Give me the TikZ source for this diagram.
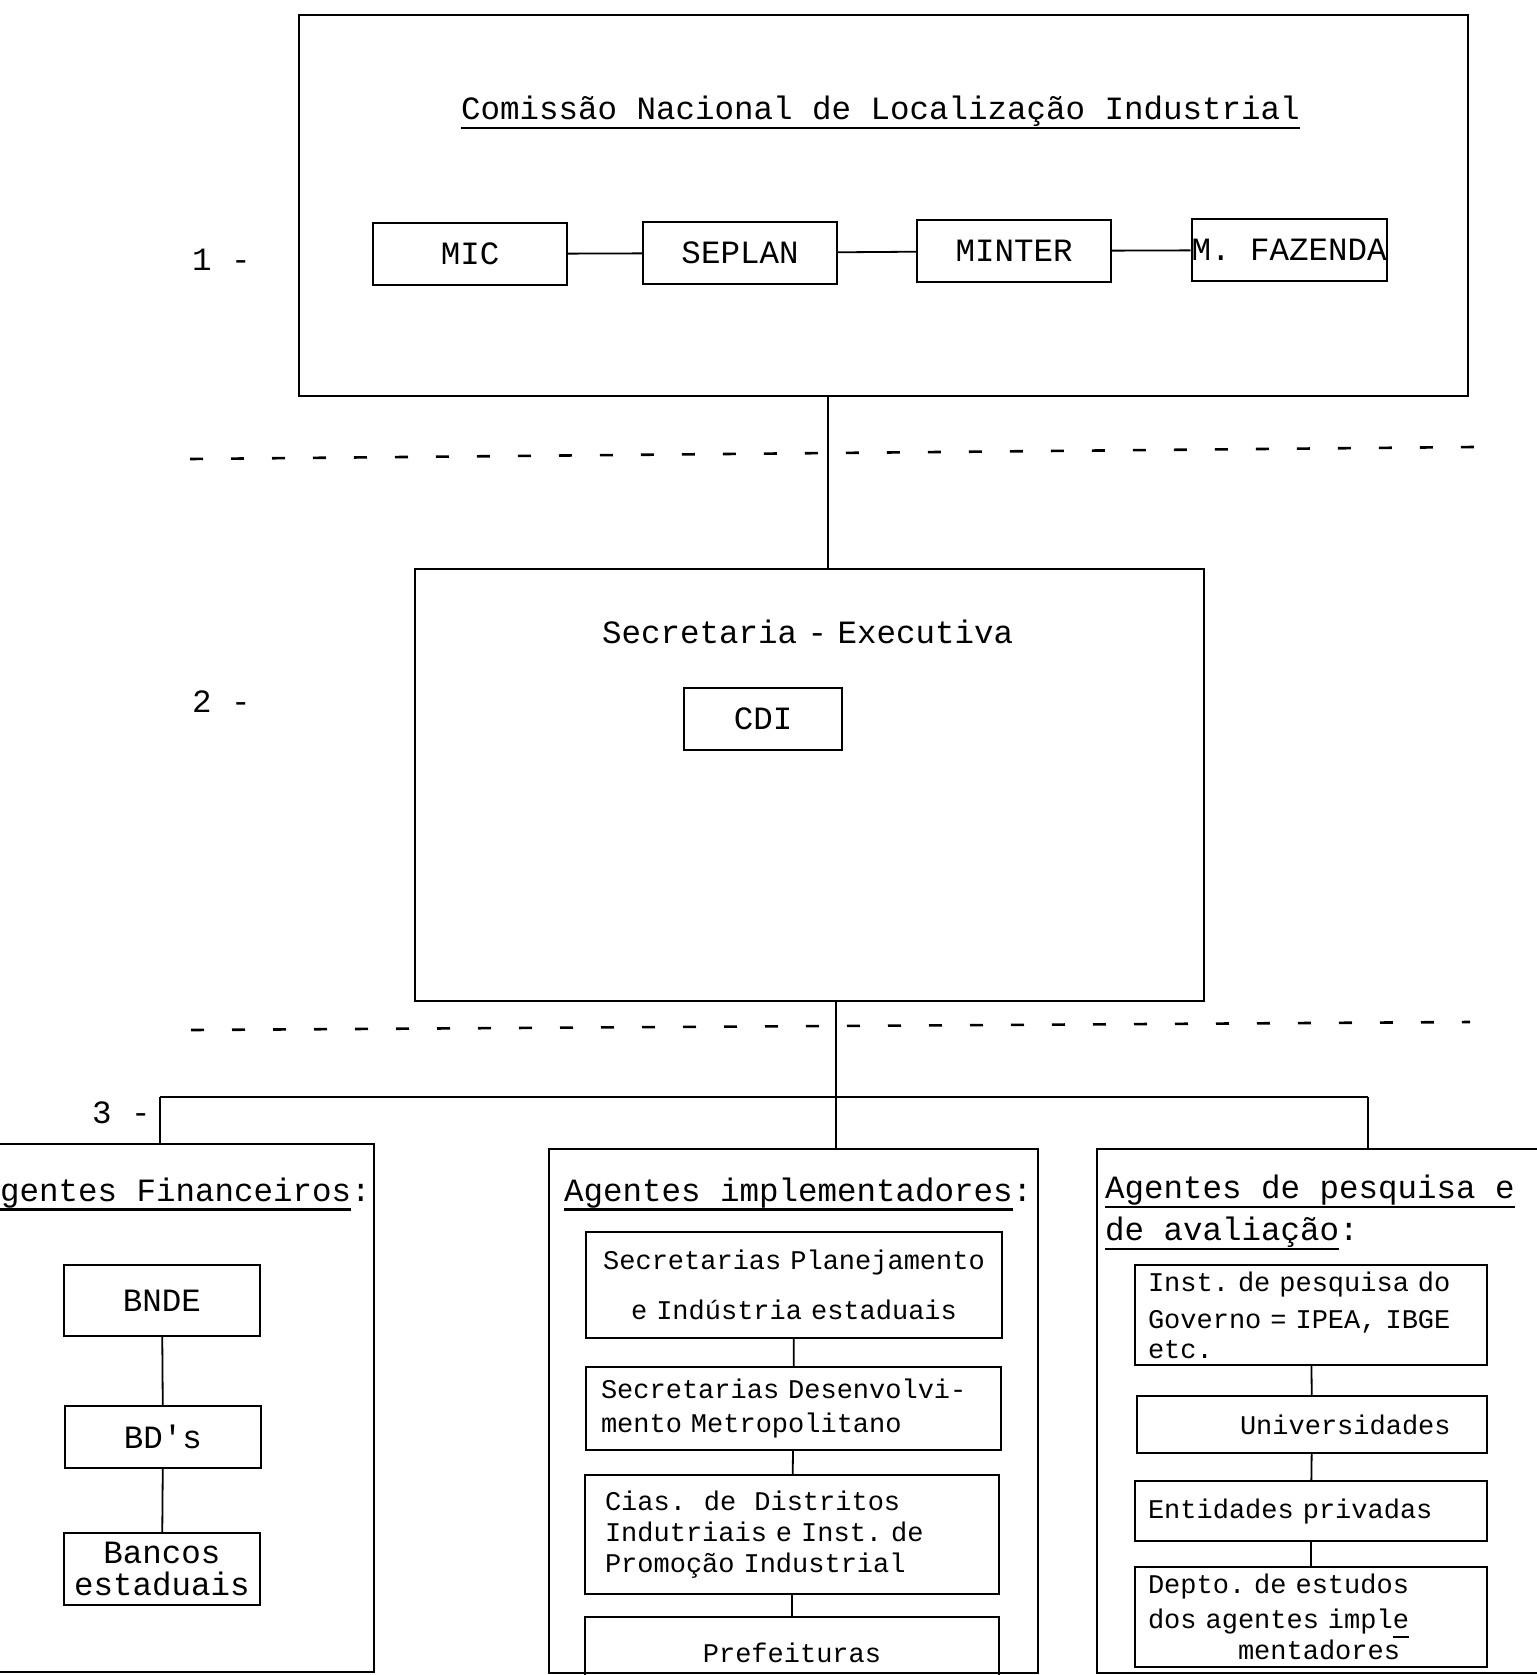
\documentclass[tikz,border=0pt]{standalone}
\usepackage{fontspec}
\newfontfamily\typer{Liberation Mono}[WordSpace={1,0,0}]
\frenchspacing
\def \BigType {\typer\fontsize{32.5}{40}\selectfont}
\def \SmallType {\typer\fontsize{27}{33}\selectfont}
\newcommand\typeline[1]{\setbox0\hbox{#1}\rlap{\vrule height -7pt depth 9.5pt width \wd0}\box0}
\tikzstyle{frame}=[
  draw=black,
  line width=2pt,
  inner sep=0pt
]
\tikzstyle{unitbox}=[frame, font=\BigType, minimum width=194pt, minimum height=62pt]
\tikzstyle{bankbox}=[frame, anchor=north west, font=\BigType, align=center, minimum width=196pt]
\tikzstyle{agentbox}=[frame, anchor=north west, font=\SmallType, inner xsep=14pt, align=left]
\tikzstyle{heading}=[font=\BigType, inner sep=0pt]
\tikzstyle{joinline}=[line width=1.8pt]
\tikzstyle{divider}=[line width=2.6pt, dash pattern=on 13pt off 28pt]

\begin{document}
\begin{tikzpicture}[x=1pt, y=-1pt]
  \path[use as bounding box, fill=white] (0,0) rectangle (1536,1675);

  % level 1
  \node[frame, anchor=north west, minimum width=1169pt, minimum height=381pt] (cnl) at (298,14) {};
  \node[heading, anchor=base west] (cnltitle) at (461,120) {\typeline{Comissão Nacional de Localização Industrial}};
  \foreach \name/\txt/\cx/\cy in {mic/MIC/470/254, seplan/SEPLAN/740/253, minter/MINTER/1014/251, faz/M. FAZENDA/1289/250}{
    \node[unitbox] (\name) at (\cx,\cy) {\txt};
  }
  \foreach \a/\b in {mic/seplan, seplan/minter, minter/faz}{
    \draw[joinline] (\a) -- (\b);
  }
  \node[heading, anchor=base west] (one) at (192,270) {1 -};

  \draw[divider] (190,459) -- (1474,447);

  % level 2
  \node[frame, anchor=north west, minimum width=789pt, minimum height=432pt] (sec) at (414,568) {};
  \node[heading, anchor=base west] (sectitle) at (602,643) {Secretaria\kern-9pt\ -\ \kern-9pt Executiva};
  \node[unitbox, minimum width=158pt] (cdi) at (763,719) {CDI};
  \node[heading, anchor=base west] (two) at (192,712) {2 -};

  \coordinate (spine1) at (828,0);
  \draw[joinline] (cnl.south -| spine1) -- (sec.north -| spine1);

  \draw[divider] (191,1030) -- (1470,1022);

  % level 3
  \node[frame, anchor=north west, minimum width=403pt, minimum height=528pt] (fin) at (-30,1143) {};
  \node[frame, anchor=north west, minimum width=489pt, minimum height=524pt] (impl) at (548,1148) {};
  \node[frame, anchor=north west, minimum width=480pt, minimum height=524pt] (eval) at (1096,1148) {};
  \node[heading, anchor=base west] (three) at (92,1123) {3 -};

  \coordinate (spine2) at (836,0);
  \coordinate (barl) at (160,1097);
  \coordinate (barr) at (1368,1097);
  \draw[joinline] (sec.south -| spine2) -- (impl.north -| spine2);
  \draw[joinline] (barl) -- (barr);
  \draw[joinline] (barl) -- (fin.north -| barl);
  \draw[joinline] (barr) -- (eval.north -| barr);

  \node[heading, anchor=base east] (fintitle) at (371,1201) {\typeline{Agentes Financeiros}:};
  \node[heading, anchor=base west] (impltitle) at (564,1201) {\typeline{Agentes implementadores}:};
  \node[heading, anchor=north west, align=left] (evaltitle) at (1105,1175) {\typeline{Agentes de pesquisa e}\\[2pt]\typeline{de avaliação}:};

  % financeiros
  \node[bankbox, minimum height=71pt] (bnde) at (63,1264) {BNDE};
  \node[bankbox, minimum height=62pt] (bds) at (64,1405) {BD's};
  \node[bankbox, minimum height=72pt] (bancos) at (63,1532) {Bancos\\[-8pt]estaduais};
  \draw[joinline] (bnde) -- (bds);
  \draw[joinline] (bds) -- (bancos);

  % implementadores
  \node[agentbox, minimum width=416pt, minimum height=106pt, text width=392pt, inner xsep=12pt, align=center] (splan) at (585,1231) {Secretarias Planejamento\\[17pt]e Indústria estaduais};
  \node[agentbox, minimum width=415pt, minimum height=83pt, text width=385pt, inner xsep=15pt] (sdev) at (585,1366) {Secretarias Desenvolvi-\\[1pt]mento Metropolitano};
  \node[agentbox, minimum width=414pt, minimum height=119pt, text width=374pt, inner xsep=20pt] (cias) at (584,1474) {Cias.\ \ de\ \ Distritos\\[-2pt]Indutriais e Inst. de\\[-2pt]Promoção Industrial};
  \node[agentbox, minimum width=414pt, minimum height=72pt, text width=386pt, align=center] (pref) at (584,1616) {Prefeituras};
  \foreach \a/\b in {splan/sdev, sdev/cias, cias/pref}{
    \draw[joinline] (\a) -- (\b);
  }

  % pesquisa e avaliacao
  \node[agentbox, minimum width=352pt, minimum height=100pt, text width=326pt, inner xsep=13pt] (inst) at (1134,1264) {Inst. de pesquisa do\\[4pt]Governo = IPEA, IBGE\\[-3pt]etc.};
  \node[agentbox, minimum width=350pt, minimum height=57pt, text width=324pt, inner xsep=13pt] (univ) at (1136,1395) {\hspace*{90pt}Universidades};
  \node[agentbox, minimum width=352pt, minimum height=60pt, text width=326pt, inner xsep=13pt] (ent) at (1134,1480) {Entidades privadas};
  \node[agentbox, minimum width=352pt, minimum height=100pt, text width=326pt, inner xsep=13pt] (depto) at (1134,1566) {Depto. de estudos\\[2pt]dos agentes impl\typeline{e}\\[-2pt]\hspace*{90pt}mentadores};
  \foreach \a/\b in {inst/univ, univ/ent, ent/depto}{
    \draw[joinline] (\a) -- (\b);
  }
\end{tikzpicture}
\end{document}
